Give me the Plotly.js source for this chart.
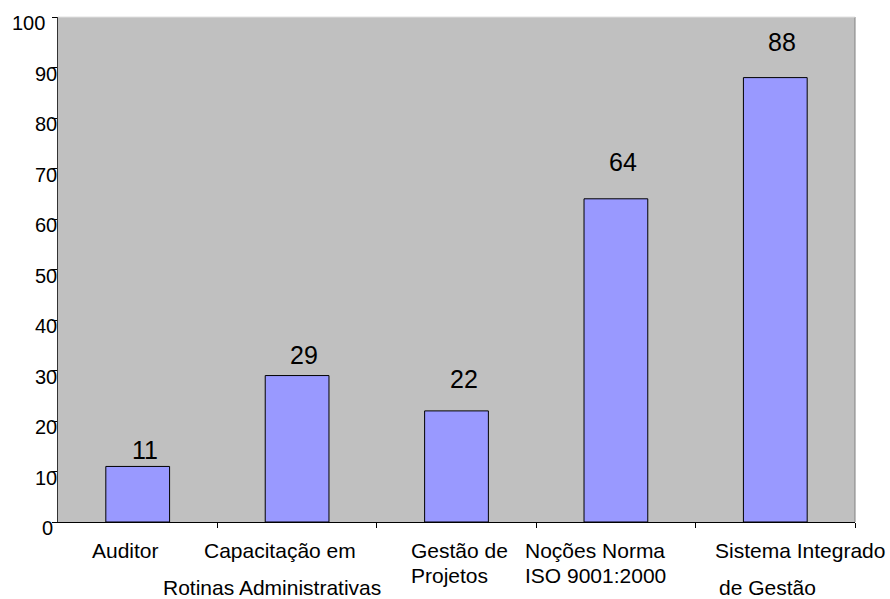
<!DOCTYPE html>
<html>
<head>
<meta charset="utf-8">
<script src="https://cdn.plot.ly/plotly-3.0.1.min.js"></script>
<style>html,body{margin:0;padding:0;background:#fff;}#chart{width:890px;height:599px;}</style>
</head>
<body>
<div id="chart"></div>
<script>
const categories = ["Auditor", "Capacitação em Rotinas Administrativas", "Gestão de Projetos", "Noções Norma ISO 9001:2000", "Sistema Integrado de Gestão"];
const values = [11, 29, 22, 64, 88];
const yTicks = [0, 10, 20, 30, 40, 50, 60, 70, 80, 90, 100];
// layout offsets of the value labels above bar tops (px)
const valueLabelLift = [16, 21, 32, 37, 36];
// x label lines: [category index, text, x offset (px), y (px below axis), anchor]
const xLabelLines = [
  [0, "Auditor", -12, 28, "center"],
  [1, "Capacitação em", -17, 28, "center"],
  [1, "Rotinas Administrativas", -25, 65, "center"],
  [2, "Gestão de", -48, 28, "left"],
  [2, "Projetos", -48, 53, "left"],
  [3, "Noções Norma", -93, 28, "left"],
  [3, "ISO 9001:2000", -93, 53, "left"],
  [4, "Sistema Integrado", 25, 28, "center"],
  [4, "de Gestão", -8, 65, "center"]
];
const xIdx = categories.map((c, i) => i);
const FONT = "Liberation Sans, Arial, sans-serif";

const trace = {
  type: "bar",
  x: xIdx,
  y: values,
  width: 0.4,
  marker: {color: "#9999ff", line: {color: "#000000", width: 1}},
  hoverinfo: "skip"
};

const annotations = [];
xLabelLines.forEach(l => annotations.push({
  x: l[0], xref: "x", y: 0, yref: "paper",
  text: l[1], showarrow: false,
  xanchor: l[4], yanchor: "middle",
  xshift: l[2], yshift: -l[3],
  font: {family: FONT, size: 21, color: "#000"}
}));
values.forEach((v, i) => annotations.push({
  x: i, xref: "x", y: v, yref: "y",
  text: String(v), showarrow: false,
  xanchor: "center", yanchor: "middle",
  xshift: 7, yshift: valueLabelLift[i],
  font: {family: FONT, size: 25, color: "#000"}
}));
yTicks.forEach(t => annotations.push({
  x: 0, xref: "paper", y: t, yref: "y",
  text: String(t), showarrow: false,
  xanchor: "right", yanchor: "middle",
  xshift: t === 100 ? -11 : (t === 0 ? -3 : 1), yshift: -6,
  font: {family: FONT, size: 20, color: "#000"}
}));

const layout = {
  width: 890, height: 599,
  margin: {l: 58, r: 35, t: 17, b: 77, pad: 0},
  paper_bgcolor: "#ffffff",
  plot_bgcolor: "#c0c0c0",
  showlegend: false,
  font: {family: FONT, color: "#000"},
  xaxis: {
    range: [-0.5, 4.5],
    tickmode: "array",
    tickvals: [0.5, 1.5, 2.5, 3.5, 4.5],
    ticktext: ["", "", "", "", ""],
    ticks: "outside", ticklen: 5, tickcolor: "#000", tickwidth: 1,
    showline: true, linecolor: "#000", linewidth: 1,
    showgrid: false, zeroline: false, fixedrange: true
  },
  yaxis: {
    range: [0, 100],
    tickmode: "array",
    tickvals: yTicks,
    ticktext: yTicks.map(() => ""),
    ticks: "outside", ticklen: 5, tickcolor: "#000", tickwidth: 1,
    showline: true, linecolor: "#333", linewidth: 1,
    showgrid: false, zeroline: false, fixedrange: true
  },
  shapes: [
    {type: "line", xref: "paper", yref: "paper", x0: 1, x1: 1, y0: 0, y1: 1, line: {color: "#808080", width: 1}},
    {type: "line", xref: "paper", yref: "paper", x0: 0, x1: 1, y0: 1, y1: 1, line: {color: "#e0e0e0", width: 1}}
  ],
  annotations: annotations
};

Plotly.newPlot("chart", [trace], layout, {staticPlot: true, displayModeBar: false});
</script>
</body>
</html>
